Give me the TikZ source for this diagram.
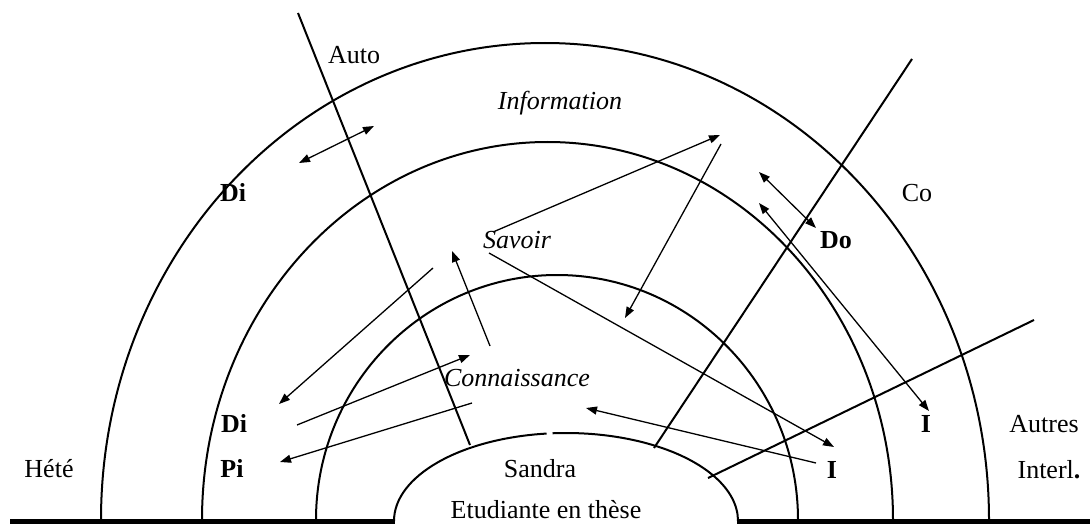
\documentclass[tikz,border=0pt]{standalone}
\usepackage{fontspec}
\setmainfont{Liberation Serif}
\usetikzlibrary{arrows.meta}
\begin{document}
\begin{tikzpicture}[x=1pt,y=-1pt,
  band/.style={line width=2pt},
  divider/.style={line width=2pt},
  flow/.style={line width=1.3pt,-{Triangle[length=11pt,width=8pt]}},
  flowtwo/.style={line width=1.3pt,{Triangle[length=11pt,width=8pt]}-{Triangle[length=11pt,width=8pt]}},
  lbl/.style={font=\fontsize{26}{30}\selectfont, anchor=base, inner sep=0pt},
  ]
\useasboundingbox (0,0) rectangle (1090,524);
% ground line
\draw[line width=4.5pt] (10,521.5) -- (395,521.5);
\draw[line width=4.5pt] (737,521.5) -- (1090,521.5);
% bands
\draw[band] (101,520) arc[start angle=180,end angle=360,x radius=444,y radius=477];
\draw[band] (202,520) arc[start angle=180,end angle=360,x radius=345.5,y radius=378];
\draw[band] (316,520) arc[start angle=180,end angle=360,x radius=241,y radius=245];
% Sandra
\draw[band] (394,521) arc[start angle=180,end angle=263.5,x radius=172,y radius=88];
\draw[band] (738,521) arc[start angle=360,end angle=265.5,x radius=172,y radius=88];
% dividers
\coordinate (a1) at (298,13);  \coordinate (a2) at (470,445);
\coordinate (b1) at (912,59);  \coordinate (b2) at (654,448);
\coordinate (c1) at (1034,320); \coordinate (c2) at (708,478);
\draw[divider] (a1) -- (a2);
\draw[divider] (b1) -- (b2);
\draw[divider] (c1) -- (c2);
% labels
\node[lbl] (auto) at (354,64) {Auto};
\node[lbl] (info) at (560,110) {\itshape Information};
\node[lbl] (di1) at (233,201) {\bfseries Di};
\node[lbl] (co) at (917,201) {Co};
\node[lbl] (do) at (836,248) {\bfseries Do};
\node[lbl] (savoir) at (517,248) {\itshape Savoir};
\node[lbl] (conn) at (517,386) {\itshape Connaissance};
\node[lbl] (di2) at (234,432) {\bfseries Di};
\node[lbl] (pi) at (232,477) {\bfseries Pi};
\node[lbl] (hete) at (49,477) {Hété};
\node[lbl] (sandra) at (540,477) {Sandra};
\node[lbl] (etud) at (546,518.5) {Etudiante en thèse};
\node[lbl] (i1) at (832,478) {\bfseries I};
\node[lbl] (i2) at (926,432) {\bfseries I};
\node[lbl] (autres) at (1044,432) {Autres};
\node[lbl] (interl) at (1049,478) {Interl\textbf{.}};
% arrows
\coordinate (p1) at (299,163); \coordinate (q1) at (374,126);
\coordinate (p2) at (493,232); \coordinate (q2) at (720,135);
\coordinate (p3) at (721,144); \coordinate (q3) at (625,318);
\coordinate (p4) at (759,172); \coordinate (q4) at (816,228);
\coordinate (p5) at (759,203); \coordinate (q5) at (929,411);
\coordinate (p6) at (489,253); \coordinate (q6) at (834,447);
\coordinate (p7) at (816,463); \coordinate (q7) at (586,408);
\coordinate (p8) at (490,346); \coordinate (q8) at (452,251);
\coordinate (p9) at (433,268); \coordinate (q9) at (279,404);
\coordinate (p10) at (297,425); \coordinate (q10) at (470,355);
\coordinate (p11) at (472,403); \coordinate (q11) at (280,462);
\draw[flowtwo] (p1) -- (q1);
\draw[flow] (p2) -- (q2);
\draw[flow] (p3) -- (q3);
\draw[flowtwo] (p4) -- (q4);
\draw[flowtwo] (p5) -- (q5);
\draw[flow] (p6) -- (q6);
\draw[flow] (p7) -- (q7);
\draw[flow] (p8) -- (q8);
\draw[flow] (p9) -- (q9);
\draw[flow] (p10) -- (q10);
\draw[flow] (p11) -- (q11);
\end{tikzpicture}
\end{document}
